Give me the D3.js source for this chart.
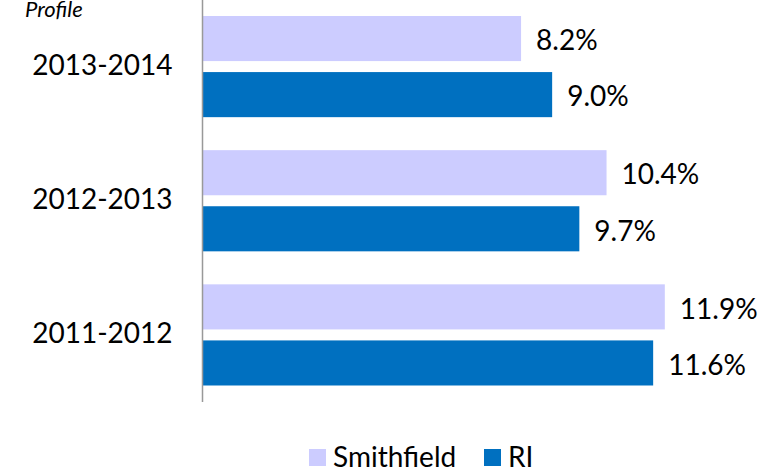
<!DOCTYPE html>
<html>
<head>
<meta charset="utf-8">
<script src="https://cdn.jsdelivr.net/npm/d3@7"></script>
<style>
  body { margin: 0; background: #fff; }
  svg text { font-family: Lato, "Open Sans", sans-serif; fill: #000; }
</style>
</head>
<body>
<svg></svg>
<script>
// data
var years = ['2013-2014', '2012-2013', '2011-2012'];
var seriesNames = ['Smithfield', 'RI'];
var smithfield = [8.2, 10.4, 11.9];
var ri = [9.0, 9.7, 11.6];
var colors = ['#ccccff', '#0070c0'];

var W = 761, H = 473;
var svg = d3.select('svg').attr('width', W).attr('height', H);

var x = d3.scaleLinear().domain([0, 14]).range([202.5, 202.5 + 14 * 38.85]);
var y = d3.scaleBand().domain(years).range([-0.5, 402])
  .paddingInner(0.246).paddingOuter(0.123);
var ys = d3.scaleBand().domain(seriesNames).range([0, y.bandwidth()])
  .paddingInner(0.196).paddingOuter(0);
var color = d3.scaleOrdinal().domain(seriesNames).range(colors);

var rows = years.map(function(yr, i) {
  return { year: yr, vals: [
    { name: 'Smithfield', v: smithfield[i] },
    { name: 'RI', v: ri[i] }
  ]};
});

// cropped title fragment
svg.append('text')
  .attr('x', 25).attr('y', 17)
  .style('font-style', 'italic').style('font-size', '22px')
  .text('Profile');

var g = svg.selectAll('.grp').data(rows).enter().append('g')
  .attr('class', 'grp')
  .attr('transform', function(d) { return 'translate(0,' + y(d.year) + ')'; });

g.selectAll('rect').data(function(d) { return d.vals; }).enter().append('rect')
  .attr('x', x(0))
  .attr('y', function(d) { return ys(d.name); })
  .attr('width', function(d) { return x(d.v) - x(0); })
  .attr('height', ys.bandwidth())
  .attr('fill', function(d) { return color(d.name); });

g.selectAll('.lbl').data(function(d) { return d.vals; }).enter().append('text')
  .attr('class', 'lbl')
  .attr('x', function(d) { return x(d.v) + 15; })
  .attr('y', function(d) { return ys(d.name) + ys.bandwidth() / 2 + 2; })
  .attr('dy', '0.35em')
  .style('font-size', '28px')
  .text(function(d) { return d.v.toFixed(1) + '%'; });

// category axis
var yAxis = svg.append('g').attr('transform', 'translate(' + x(0) + ',0)')
  .call(d3.axisLeft(y).tickSize(0).tickPadding(30));
yAxis.select('.domain').attr('d', 'M0,0V402').attr('stroke', '#999').attr('stroke-width', 1.5);
yAxis.selectAll('text').style('font-size', '28px').attr('dy', '0.3em')
  .attr('font-family', null);

// legend
var leg = svg.append('g');
var legX = [309, 484];
seriesNames.forEach(function(n, i) {
  leg.append('rect').attr('x', legX[i]).attr('y', 449).attr('width', 17).attr('height', 17)
    .attr('fill', color(n));
  leg.append('text').attr('x', legX[i] + 24).attr('y', 467)
    .style('font-size', '28px').text(n);
});
</script>
</body>
</html>
